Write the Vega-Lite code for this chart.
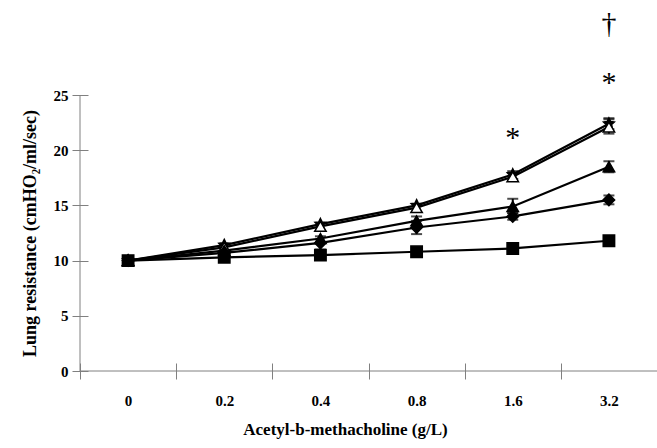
{
  "$schema": "https://vega.github.io/schema/vega-lite/v6.json",
  "autosize": "none",
  "width": 577,
  "height": 276,
  "padding": {"left": 80, "top": 95, "right": 0, "bottom": 77},
  "background": "white",
  "config": {
    "view": {"stroke": null},
    "font": "Liberation Serif",
    "axis": {"grid": false, "domain": false, "tickColor": "#808080", "labelFont": "Liberation Serif", "titleFont": "Liberation Serif", "labelFontWeight": "bold", "titleFontWeight": "bold", "labelColor": "black", "titleColor": "black"}
  },
  "datasets": {
    "means": [
      {"dose": "0", "series": "Star", "r": 10.0},
      {"dose": "0.2", "series": "Star", "r": 11.4},
      {"dose": "0.4", "series": "Star", "r": 13.3},
      {"dose": "0.8", "series": "Star", "r": 15.0},
      {"dose": "1.6", "series": "Star", "r": 17.8},
      {"dose": "3.2", "series": "Star", "r": 22.4},
      {"dose": "0", "series": "Open triangle", "r": 10.0},
      {"dose": "0.2", "series": "Open triangle", "r": 11.2},
      {"dose": "0.4", "series": "Open triangle", "r": 13.1},
      {"dose": "0.8", "series": "Open triangle", "r": 14.8},
      {"dose": "1.6", "series": "Open triangle", "r": 17.6},
      {"dose": "3.2", "series": "Open triangle", "r": 22.1},
      {"dose": "0", "series": "Triangle", "r": 10.0},
      {"dose": "0.2", "series": "Triangle", "r": 10.9},
      {"dose": "0.4", "series": "Triangle", "r": 12.0},
      {"dose": "0.8", "series": "Triangle", "r": 13.6},
      {"dose": "1.6", "series": "Triangle", "r": 14.9},
      {"dose": "3.2", "series": "Triangle", "r": 18.5},
      {"dose": "0", "series": "Diamond", "r": 10.0},
      {"dose": "0.2", "series": "Diamond", "r": 10.7},
      {"dose": "0.4", "series": "Diamond", "r": 11.6},
      {"dose": "0.8", "series": "Diamond", "r": 13.0},
      {"dose": "1.6", "series": "Diamond", "r": 14.0},
      {"dose": "3.2", "series": "Diamond", "r": 15.5},
      {"dose": "0", "series": "Square", "r": 10.0},
      {"dose": "0.2", "series": "Square", "r": 10.3},
      {"dose": "0.4", "series": "Square", "r": 10.5},
      {"dose": "0.8", "series": "Square", "r": 10.8},
      {"dose": "1.6", "series": "Square", "r": 11.1},
      {"dose": "3.2", "series": "Square", "r": 11.8}
    ],
    "errors": [
      {"dose": "3.2", "series": "Star", "lo": 21.9, "hi": 22.9},
      {"dose": "1.6", "series": "Star", "lo": 17.4, "hi": 18.1},
      {"dose": "3.2", "series": "Open triangle", "lo": 21.5, "hi": 22.8},
      {"dose": "3.2", "series": "Triangle", "lo": 18.0, "hi": 19.0},
      {"dose": "1.6", "series": "Triangle", "lo": 14.3, "hi": 15.6},
      {"dose": "0.8", "series": "Triangle", "lo": 13.2, "hi": 14.0},
      {"dose": "3.2", "series": "Diamond", "lo": 15.1, "hi": 15.9},
      {"dose": "1.6", "series": "Diamond", "lo": 13.7, "hi": 14.3},
      {"dose": "0.8", "series": "Diamond", "lo": 12.4, "hi": 13.6},
      {"dose": "0.4", "series": "Diamond", "lo": 11.0, "hi": 12.2}
    ],
    "notes": [
      {"dose": "1.6", "y": 20.3, "label": "*"},
      {"dose": "3.2", "y": 25.3, "label": "*"},
      {"dose": "3.2", "y": 30.6, "label": "†"}
    ]
  },
  "encoding": {
    "x": {
      "field": "dose", "type": "ordinal", "sort": ["0", "0.2", "0.4", "0.8", "1.6", "3.2"],
      "bandPosition": 0.5,
      "scale": {"type": "band", "domain": ["0", "0.2", "0.4", "0.8", "1.6", "3.2"], "paddingInner": 0, "paddingOuter": 0},
      "axis": {"title": "Acetyl-b-methacholine  (g/L)", "labelAngle": 0, "tickBand": "extent", "offset": -8, "tickSize": 16, "labelPadding": 14, "labelFontSize": 15, "titleFontSize": 17, "titlePadding": 13, "titleX": 265, "titleAnchor": "middle", "titleAlign": "center"}
    }
  },
  "layer": [
    {
      "data": {"values": [{"v": 0}]},
      "mark": {"type": "rule", "color": "#808080", "strokeWidth": 1},
      "encoding": {"x": null, "y": {"field": "v", "type": "quantitative"}}
    },
    {
      "data": {"values": [{"dose": "0"}]},
      "mark": {"type": "rule", "color": "#808080", "strokeWidth": 1},
      "encoding": {"x": {"field": "dose", "type": "ordinal", "bandPosition": 0}}
    },
    {
      "data": {"name": "means"},
      "mark": {"type": "line", "color": "black", "strokeWidth": 2.2},
      "encoding": {
        "y": {"field": "r", "type": "quantitative", "scale": {"domain": [0, 25], "nice": false}, "axis": {"title": "Lung resistance (cmHO₂/ml/sec)", "values": [0, 5, 10, 15, 20, 25], "offset": -8, "tickSize": 16, "labelPadding": 4, "labelFontSize": 15, "titleFontSize": 18, "titlePadding": 14}},
        "detail": {"field": "series"}
      }
    },
    {
      "data": {"name": "errors"},
      "mark": {"type": "rule", "color": "black", "strokeWidth": 2},
      "encoding": {"y": {"field": "lo", "type": "quantitative"}, "y2": {"field": "hi"}}
    },
    {
      "data": {"name": "errors"},
      "mark": {"type": "tick", "color": "black", "size": 11, "thickness": 2, "orient": "horizontal"},
      "encoding": {"y": {"field": "hi", "type": "quantitative"}}
    },
    {
      "data": {"name": "errors"},
      "mark": {"type": "tick", "color": "black", "size": 11, "thickness": 2, "orient": "horizontal"},
      "encoding": {"y": {"field": "lo", "type": "quantitative"}}
    },
    {
      "data": {"name": "means"},
      "mark": {"type": "point", "filled": true, "size": 130, "stroke": "black", "strokeWidth": 1.5, "opacity": 1},
      "encoding": {
        "y": {"field": "r", "type": "quantitative"},
        "shape": {"field": "series", "type": "nominal", "legend": null, "scale": {"domain": ["Star", "Open triangle", "Triangle", "Diamond", "Square"], "range": ["M0,-1L0.29,-0.4L0.95,-0.31L0.48,0.15L0.59,0.81L0,0.5L-0.59,0.81L-0.48,0.15L-0.95,-0.31L-0.29,-0.4Z", "triangle-up", "triangle-up", "diamond", "square"]}},
        "fill": {"field": "series", "type": "nominal", "legend": null, "scale": {"domain": ["Star", "Open triangle", "Triangle", "Diamond", "Square"], "range": ["black", "white", "black", "black", "black"]}}
      }
    },
    {
      "data": {"name": "notes"},
      "mark": {"type": "text", "font": "Liberation Serif", "fontSize": 30, "baseline": "alphabetic", "align": "center", "fill": "black"},
      "encoding": {"y": {"field": "y", "type": "quantitative"}, "text": {"field": "label"}}
    }
  ]
}
